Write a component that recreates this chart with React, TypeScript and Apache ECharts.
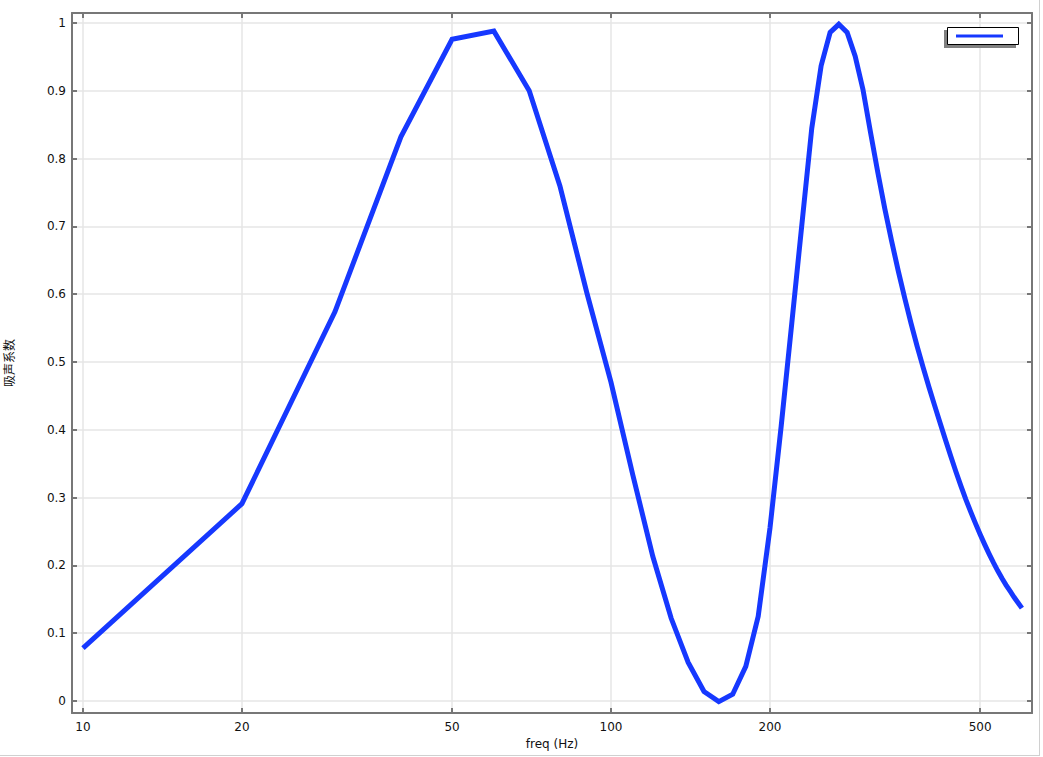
import React, { useEffect, useRef } from "react";
import * as echarts from "echarts";

const freqs = [
  10, 20, 30, 40, 50, 60, 70, 80, 90, 100,
  110, 120, 130, 140, 150, 160, 170, 180, 190, 200,
  210, 220, 230, 240, 250, 260, 270, 280, 290, 300,
  310, 320, 330, 340, 350, 360, 370, 380, 390, 400,
  410, 420, 430, 440, 450, 460, 470, 480, 490, 500,
  510, 520, 530, 540, 550, 560, 570, 580, 590, 600,
];

const absorption = [
  0.078, 0.291, 0.574, 0.832, 0.976, 0.988, 0.9, 0.76, 0.602, 0.47,
  0.333, 0.213, 0.122, 0.057, 0.014, -0.001, 0.01, 0.051, 0.125, 0.255,
  0.405, 0.558, 0.705, 0.845, 0.937, 0.986, 0.998, 0.986, 0.951, 0.902,
  0.839, 0.78, 0.726, 0.678, 0.634, 0.594, 0.557, 0.523, 0.492, 0.463,
  0.436, 0.41, 0.385, 0.361, 0.338, 0.317, 0.297, 0.279, 0.262, 0.246,
  0.231, 0.217, 0.204, 0.192, 0.181, 0.171, 0.162, 0.153, 0.145, 0.137,
];

const xTicks = [10, 20, 50, 100, 200, 500];
const yTicks = [0, 0.1, 0.2, 0.3, 0.4, 0.5, 0.6, 0.7, 0.8, 0.9, 1];

const xName = "freq (Hz)";
const yName = "吸声系数";

const X_MIN = 9.532;
const X_MAX = 627;
const Y_MIN = -0.0177;
const Y_MAX = 1.0147;

const LINE_COLOR = "#1638ff";
const AXIS_COLOR = "#777777";
const GRID_COLOR = "#e6e6e6";
const FONT = "DejaVu Sans";

export default function App() {
  const ref = useRef<HTMLDivElement>(null);

  useEffect(() => {
    if (!ref.current) return;
    const chart = echarts.init(ref.current, null, { renderer: "svg" });

    const tickStyle = { color: AXIS_COLOR, width: 2 };
    const labelStyle = { color: "#111", fontSize: 12, fontFamily: FONT };

    const option: any = {
      animation: false,
      backgroundColor: "#ffffff",
      grid: {
        left: 72,
        right: 11,
        top: 13,
        bottom: 44,
        containLabel: false,
        outerBoundsMode: "none",
      },
      xAxis: [
        {
          type: "log",
          logBase: 10,
          min: X_MIN,
          max: X_MAX,
          position: "bottom",
          name: xName,
          nameLocation: "middle",
          nameGap: 24,
          nameTextStyle: { color: "#111", fontSize: 12, fontFamily: FONT },
          axisLine: { show: true, onZero: false, lineStyle: tickStyle },
          axisTick: { show: true, inside: true, length: 5, lineStyle: tickStyle, customValues: xTicks },
          axisLabel: {
            show: true,
            customValues: xTicks,
            margin: 8,
            formatter: (v: number) => String(Math.round(v)),
            ...labelStyle,
          },
          splitLine: { show: true, lineStyle: { color: GRID_COLOR, width: 1.5 } },
          minorTick: { show: false },
          minorSplitLine: { show: false },
        },
        {
          type: "log",
          logBase: 10,
          min: X_MIN,
          max: X_MAX,
          position: "top",
          axisLine: { show: true, onZero: false, lineStyle: tickStyle },
          axisTick: { show: true, inside: true, length: 5, lineStyle: tickStyle, customValues: xTicks },
          axisLabel: { show: false },
          splitLine: { show: false },
        },
      ],
      yAxis: [
        {
          type: "value",
          min: Y_MIN,
          max: Y_MAX,
          position: "left",
          name: yName,
          nameLocation: "middle",
          nameRotate: 90,
          nameGap: 58,
          nameTextStyle: { color: "#111", fontSize: 12, fontFamily: "Noto Sans CJK SC" },
          axisLine: { show: true, onZero: false, lineStyle: tickStyle },
          axisTick: { show: true, inside: true, length: 5, lineStyle: tickStyle, customValues: yTicks },
          axisLabel: {
            show: true,
            customValues: yTicks,
            margin: 6,
            formatter: (v: number) => String(parseFloat(v.toFixed(2))),
            ...labelStyle,
          },
          splitLine: { show: true, lineStyle: { color: GRID_COLOR, width: 1.5 } },
        },
        {
          type: "value",
          min: Y_MIN,
          max: Y_MAX,
          position: "right",
          axisLine: { show: true, onZero: false, lineStyle: tickStyle },
          axisTick: { show: true, inside: true, length: 5, lineStyle: tickStyle, customValues: yTicks },
          axisLabel: { show: false },
          splitLine: { show: false },
        },
      ],
      series: [
        {
          type: "line",
          xAxisIndex: 0,
          yAxisIndex: 0,
          data: freqs.map((f, i) => [f, absorption[i]]),
          symbol: "none",
          lineStyle: { color: LINE_COLOR, width: 5, join: "miter" },
          z: 5,
        },
      ],
      graphic: [
        { type: "rect", shape: { x: 944, y: 30, width: 72, height: 18 }, style: { fill: "#808080" }, z: 100 },
        { type: "rect", shape: { x: 947.5, y: 27.5, width: 71, height: 17 }, style: { fill: "#ffffff", stroke: "#000000", lineWidth: 1 }, z: 101 },
        { type: "line", shape: { x1: 956, y1: 36, x2: 1003, y2: 36 }, style: { stroke: LINE_COLOR, lineWidth: 3 }, z: 102 },
        { type: "line", shape: { x1: 1039.5, y1: 0, x2: 1039.5, y2: 756 }, style: { stroke: "#d0d0d0", lineWidth: 1 }, z: 100 },
        { type: "line", shape: { x1: 0, y1: 755.5, x2: 1040, y2: 755.5 }, style: { stroke: "#d0d0d0", lineWidth: 1 }, z: 100 },
      ],
    };

    chart.setOption(option);
    return () => chart.dispose();
  }, []);

  return (
    <div
      ref={ref}
      style={{ position: "fixed", left: 0, top: 0, width: 1043, height: 757, background: "#fff" }}
    />
  );
}
